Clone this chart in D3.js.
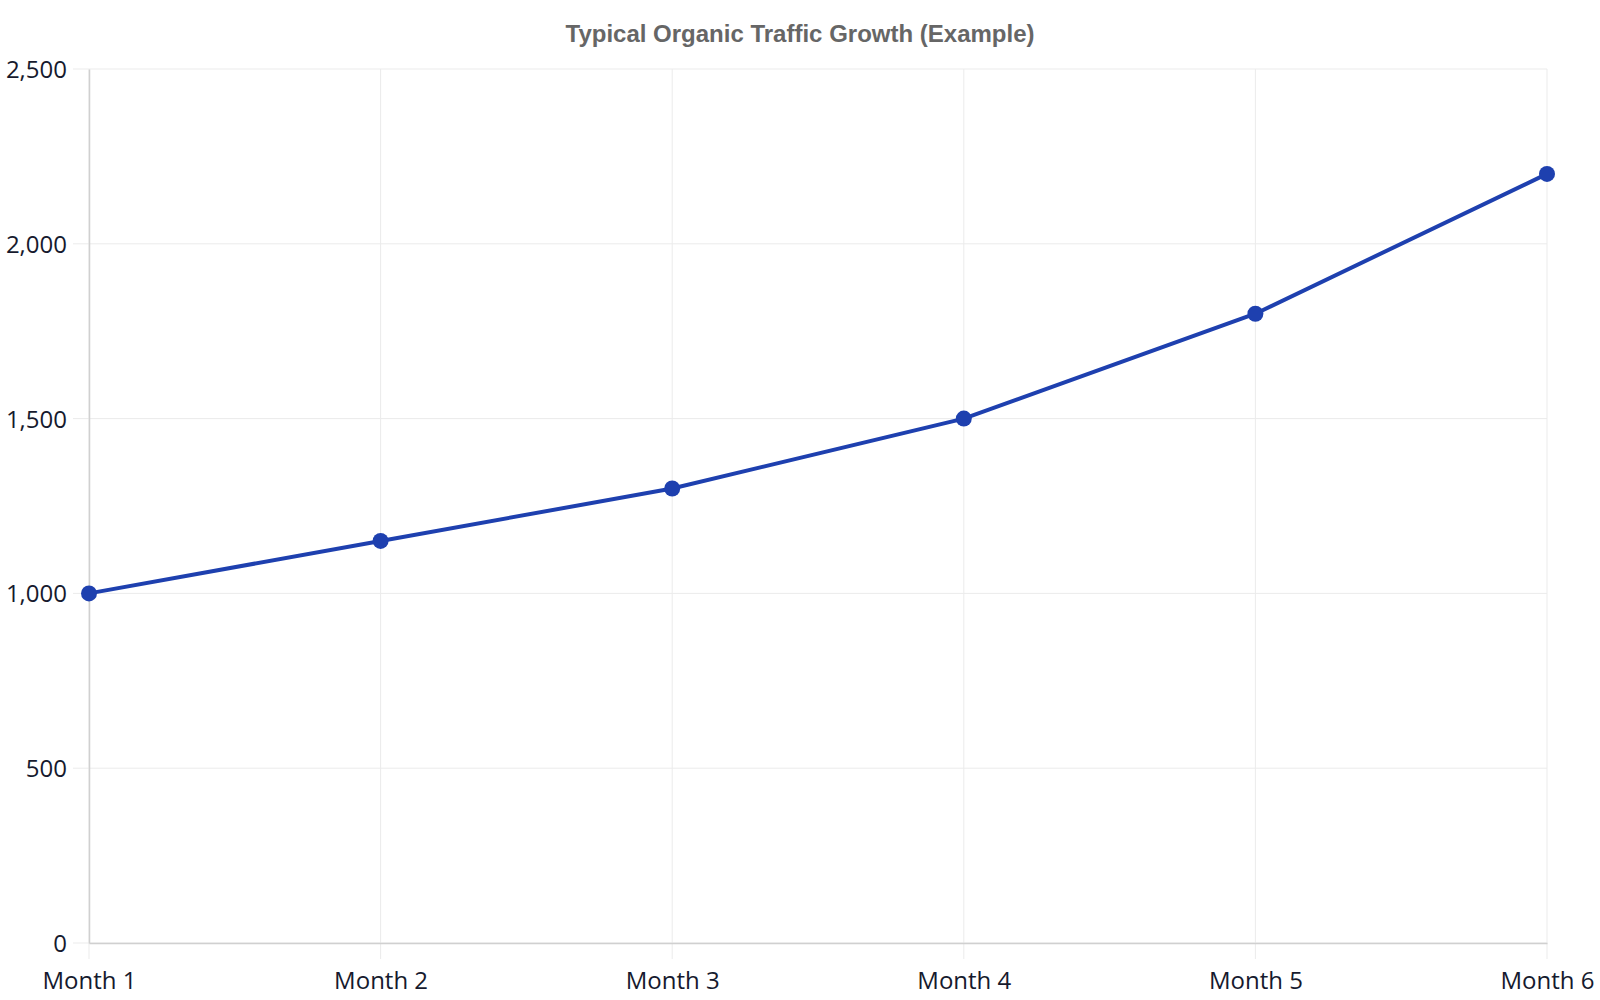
<!DOCTYPE html>
<html>
<head>
<meta charset="utf-8">
<script src="https://cdn.jsdelivr.net/npm/d3@7"></script>
<style>
	body { margin: 0; background: #fff; }
	svg { display: block; }
</style>
</head>
<body>
<svg id="chart" width="1600" height="1000"></svg>
<script>
var months = ["Month 1", "Month 2", "Month 3", "Month 4", "Month 5", "Month 6"];
var traffic = [1000, 1150, 1300, 1500, 1800, 2200];
var yTicks = [0, 500, 1000, 1500, 2000, 2500];

var margin = {top: 69, right: 53, bottom: 57, left: 89};
var width = 1600, height = 1000;

var svg = d3.select("#chart");

var x = d3.scalePoint()
		.domain(months)
		.range([margin.left, width - margin.right]);
var y = d3.scaleLinear()
		.domain([0, 2500])
		.range([height - margin.bottom, margin.top]);

// title
svg.append("text")
	.attr("x", 800)
	.attr("y", 42)
	.attr("text-anchor", "middle")
	.attr("font-family", "Liberation Sans, Arial, sans-serif")
	.attr("font-weight", "bold")
	.attr("font-size", 24)
	.attr("fill", "#666")
	.text("Typical Organic Traffic Growth (Example)");

// grid
svg.append("g")
	.selectAll("line")
	.data(yTicks)
	.enter()
	.append("line")
	.attr("x1", margin.left - 16)
	.attr("x2", width - margin.right)
	.attr("y1", function(d) { return y(d); })
	.attr("y2", function(d) { return y(d); })
	.attr("stroke", "#ebebeb")
	.attr("stroke-width", 1);

svg.append("g")
	.selectAll("line")
	.data(months)
	.enter()
	.append("line")
	.attr("x1", function(d) { return x(d); })
	.attr("x2", function(d) { return x(d); })
	.attr("y1", margin.top)
	.attr("y2", height - margin.bottom + 16)
	.attr("stroke", "#ebebeb")
	.attr("stroke-width", 1);

// axes
var xAxis = d3.axisBottom(x).tickSize(0).tickPadding(29);
var yAxis = d3.axisLeft(y).tickValues(yTicks).tickSize(0).tickPadding(22).tickFormat(d3.format(","));

var gx = svg.append("g")
	.attr("transform", "translate(0," + (height - margin.bottom) + ")")
	.call(xAxis);
var gy = svg.append("g")
	.attr("transform", "translate(" + margin.left + ",0)")
	.call(yAxis);

[gx, gy].forEach(function(g) {
	g.select(".domain").attr("stroke", "#d0d0d0").attr("stroke-width", 1.5);
	g.selectAll("text")
		.attr("font-family", "Open Sans, sans-serif")
		.attr("font-size", 24)
		.attr("fill", "#161a2e");
});
gy.selectAll("text").attr("dy", "0.35em");

// line
var line = d3.line()
	.x(function(d, i) { return x(months[i]); })
	.y(function(d) { return y(d); });

svg.append("path")
	.datum(traffic)
	.attr("d", line)
	.attr("fill", "none")
	.attr("stroke", "#1e40af")
	.attr("stroke-width", 4);

svg.selectAll("circle")
	.data(traffic)
	.enter()
	.append("circle")
	.attr("cx", function(d, i) { return x(months[i]); })
	.attr("cy", function(d) { return y(d); })
	.attr("r", 8)
	.attr("fill", "#1e40af");
</script>
</body>
</html>
